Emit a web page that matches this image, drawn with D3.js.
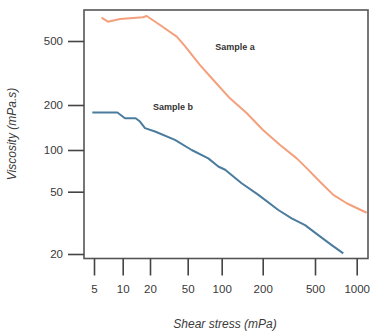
<!DOCTYPE html>
<html lang="en">
<head>
    <meta charset="UTF-8">
    <title>Viscosity vs shear stress</title>
    <script src="https://cdnjs.cloudflare.com/ajax/libs/d3/7.8.5/d3.min.js"></script>
    <style>
        body { margin: 0; background: #fff; }
        svg { display: block; font-family: "Liberation Sans", Arial, sans-serif; }
        .tick text { font-size: 11.5px; fill: #383838; }
        .tick line { stroke: #444; stroke-width: 1.6px; }
        .title { font-size: 12px; font-style: italic; fill: #3a3a3a; }
        .label { font-size: 9px; font-weight: bold; fill: #333; }
    </style>
</head>
<body>
    <div id="chart"></div>

    <script>
        // data
        const xTicks = [5, 10, 20, 50, 100, 200, 500, 1000];
        const yTicks = [500, 200, 100, 50, 20];

        const aStress = [6.0, 7.0, 9.4, 16.7, 18.4, 25.5, 38.3, 46.8, 64.3, 84.3, 115, 153, 201, 271, 363, 432, 543, 678, 847, 1180];
        const aViscosity = [698, 659, 685, 702, 715, 629, 532, 465, 354, 286, 220, 176, 136, 108, 87, 74, 59, 47.7, 42.2, 36.7];

        const bStress = [4.8, 8.8, 10.6, 13.9, 15.5, 17.6, 22.6, 36.7, 54.2, 76.1, 93.3, 106, 140, 186, 263, 332, 420, 528, 660, 800];
        const bViscosity = [178, 178, 163, 163, 155, 140, 133, 117, 100, 87, 76, 72, 57.5, 47.7, 38.2, 33.8, 30.6, 26.4, 22.8, 20.2];

        const width = 370, height = 331;
        const plot = { left: 84, right: 368, top: 10, bottom: 258.5 };

        const svg = d3.select("#chart").append("svg")
            .attr("width", width)
            .attr("height", height);

        // the original axis is not quite even, so the log scales are piecewise
        const x = d3.scaleLog()
            .domain(xTicks)
            .range([94, 122.7, 150, 187.7, 221.7, 262.7, 315, 356.7]);
        const y = d3.scaleLog()
            .domain(yTicks)
            .range([41, 105, 150, 191.7, 254]);

        svg.append("clipPath").attr("id", "plot")
            .append("rect")
            .attr("x", plot.left).attr("y", plot.top)
            .attr("width", plot.right - plot.left).attr("height", plot.bottom - plot.top);

        const line = d3.line()
            .x(d => x(d[0]))
            .y(d => y(d[1]));

        const series = [
            { xs: aStress, ys: aViscosity, color: "#f4a07c" },
            { xs: bStress, ys: bViscosity, color: "#4b7c9e" }
        ];

        svg.append("g").attr("clip-path", "url(#plot)")
            .selectAll("path")
            .data(series)
            .join("path")
            .attr("fill", "none")
            .attr("stroke", d => d.color)
            .attr("stroke-width", 2)
            .attr("stroke-linejoin", "round")
            .attr("d", d => line(d.xs.map((v, i) => [v, d.ys[i]])));

        // frame
        svg.append("rect")
            .attr("x", plot.left).attr("y", plot.top)
            .attr("width", plot.right - plot.left).attr("height", plot.bottom - plot.top)
            .attr("fill", "none")
            .attr("stroke", "#555")
            .attr("stroke-width", 1.6);

        // axes
        svg.append("g")
            .attr("transform", `translate(${plot.left},0)`)
            .call(d3.axisLeft(y).tickValues(yTicks).tickFormat(d3.format("d")).tickSize(16).tickPadding(5))
            .call(g => g.select(".domain").remove());

        svg.append("g")
            .attr("transform", `translate(0,${plot.bottom})`)
            .call(d3.axisBottom(x).tickValues(xTicks).tickFormat(d3.format("d")).tickSize(17).tickPadding(9))
            .call(g => g.select(".domain").remove());

        svg.selectAll(".tick text").attr("font-family", null).attr("font-size", null).attr("fill", null);

        // titles
        svg.append("text")
            .attr("class", "title")
            .attr("x", 225).attr("y", 328)
            .attr("text-anchor", "middle")
            .text("Shear stress (mPa)");

        svg.append("text")
            .attr("class", "title")
            .attr("transform", "translate(16,134) rotate(-90)")
            .attr("text-anchor", "middle")
            .text("Viscosity (mPa.s)");

        // series labels
        svg.append("text").attr("class", "label")
            .attr("x", 235).attr("y", 50)
            .attr("text-anchor", "middle")
            .text("Sample a");

        svg.append("text").attr("class", "label")
            .attr("x", 173).attr("y", 110)
            .attr("text-anchor", "middle")
            .text("Sample b");
    </script>
</body>
</html>
